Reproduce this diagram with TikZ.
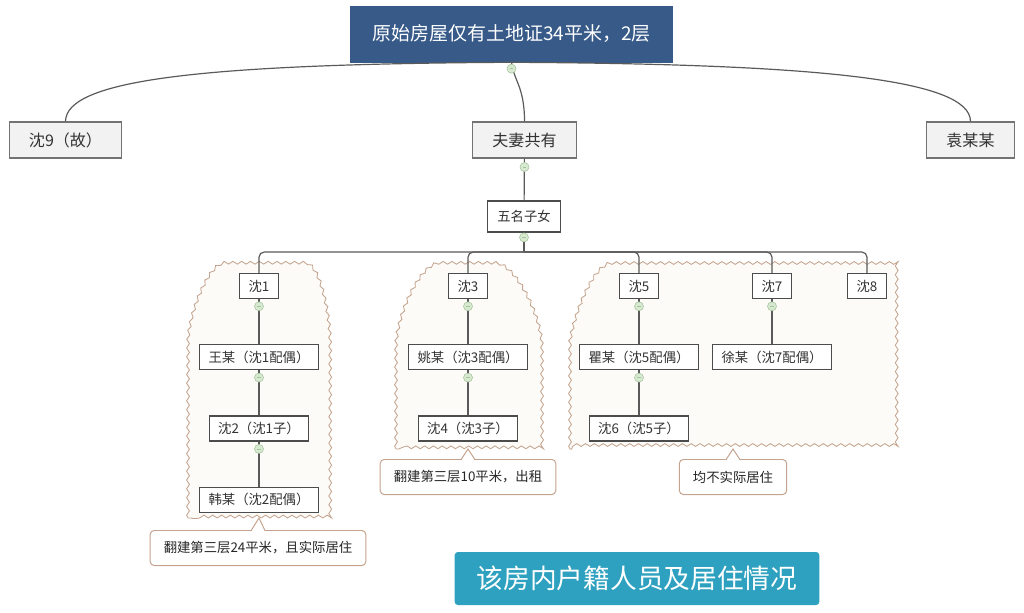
\documentclass[tikz,border=0pt]{standalone}
\usepackage{fontspec}
\setmainfont{Noto Sans CJK SC}
\usetikzlibrary{positioning,calc,backgrounds,decorations.pathmorphing}

\definecolor{rootblue}{RGB}{55,90,137}
\definecolor{titleblue}{RGB}{45,161,191}
\definecolor{linegray}{RGB}{90,90,90}
\definecolor{boxgray}{RGB}{242,242,242}
\definecolor{cloudline}{RGB}{196,164,142}
\definecolor{cloudfill}{RGB}{253,251,248}
\definecolor{foldfill}{RGB}{216,233,210}
\definecolor{foldline}{RGB}{165,196,155}

\tikzset{
  rootbox/.style={draw=rootblue, fill=rootblue, text=white, minimum height=1.4cm,
    inner xsep=0.55cm, font=\fontsize{13.5}{16}\selectfont},
  mainbox/.style={draw=black!55, fill=boxgray, minimum height=0.9cm, inner xsep=0.49cm,
    line width=0.9pt, text=black!80, font=\fontsize{11.4}{13}\selectfont},
  subbox/.style={draw=black!70, fill=white, minimum height=0.625cm, inner xsep=0.22cm,
    line width=0.9pt, text=black!80, font=\fontsize{9.5}{11}\selectfont},
  notebox/.style={draw=cloudline, fill=white, rounded corners=0.1cm, minimum height=0.875cm,
    inner xsep=0.34cm, line width=0.7pt, text=black!85, font=\fontsize{9.5}{11}\selectfont},
  titlebox/.style={fill=titleblue, text=white, rounded corners=0.08cm, minimum height=1.325cm,
    inner xsep=0.55cm, font=\fontsize{19}{22}\selectfont},
  link/.style={draw=linegray, line width=0.85pt},
  noteline/.style={draw=cloudline, line width=0.7pt},
  fold/.style={circle, draw=foldline, fill=foldfill, minimum size=0.225cm, inner sep=0pt,
    path picture={\draw[foldline, line width=0.4pt]
      ([xshift=-1.3pt]path picture bounding box.center) --
      ([xshift=1.3pt]path picture bounding box.center);}},
  cloudwrap/.style={draw=cloudline, fill=cloudfill, line width=0.6pt, decorate,
    decoration={snake, amplitude=0.035cm, segment length=0.22cm}},
}

% pointer of a note box, #1 note node, #2 tip coordinate
\newcommand{\notetip}[2]{%
  \fill[white] ($(#1.north)+(-0.18cm,-0.04cm)$) -- (#2) -- ($(#1.north)+(0.18cm,-0.04cm)$) -- cycle;
  \draw[noteline] ($(#1.north)+(-0.18cm,-0.025cm)$) -- (#2) -- ($(#1.north)+(0.18cm,-0.025cm)$);
}

\begin{document}
\begin{tikzpicture}[x=0.025cm, y=-0.025cm]
  \useasboundingbox (0,0) rectangle (1024,612);

  % top level
  \node[rootbox] (r)  at (511.5,34) {原始房屋仅有土地证34平米，2层};
  \node[mainbox] (s9) at (65.5,140) {沈9（故）};
  \node[mainbox] (fq) at (524.5,140) {夫妻共有};
  \node[mainbox] (ym) at (970.5,140) {袁某某};
  \node[subbox, minimum height=0.775cm, inner xsep=0.25cm] (wm) at (524,216.5) {五名子女};

  % five children and their families
  \node[subbox] (s1) at (259,286) {沈1};
  \node[subbox, below=1.125cm of s1] (w1) {王某（沈1配偶）};
  \node[subbox, below=1.125cm of w1] (s2) {沈2（沈1子）};
  \node[subbox, below=1.125cm of s2] (h2) {韩某（沈2配偶）};
  \node[subbox] (s3) at (468,286) {沈3};
  \node[subbox, below=1.125cm of s3] (y3) {姚某（沈3配偶）};
  \node[subbox, below=1.125cm of y3] (s4) {沈4（沈3子）};
  \node[subbox] (s5) at (639,286) {沈5};
  \node[subbox, below=1.125cm of s5] (q5) {瞿某（沈5配偶）};
  \node[subbox, below=1.125cm of q5] (s6) {沈6（沈5子）};
  \node[subbox] (s7) at (772,286) {沈7};
  \node[subbox, below=1.125cm of s7] (x7) {徐某（沈7配偶）};
  \node[subbox] (s8) at (867,286) {沈8};

  % notes and title
  \node[notebox] (n1) at (258,548) {翻建第三层24平米，且实际居住};
  \node[notebox] (n2) at (468,477) {翻建第三层10平米，出租};
  \node[notebox] (n3) at (733,477) {均不实际居住};
  \node[titlebox] (tt) at (637,578.5) {该房内户籍人员及居住情况};

  % wavy group outlines
  \begin{scope}[on background layer]
    \path[cloudwrap] (188,518) -- (188,345) .. controls (188,318) and (208,265) .. (225,265)
      -- (305,265) .. controls (320,265) and (330,318) .. (330,345) -- (330,518) -- cycle;
    \path[cloudwrap] (396,449) -- (396,350) .. controls (396,318) and (420,265) .. (440,265)
      -- (495,265) .. controls (515,265) and (542,318) .. (542,350) -- (542,449) -- cycle;
    \path[cloudwrap] (570,449) -- (570,345) .. controls (575,312) and (595,265) .. (612,265)
      -- (900,265) -- (900,449) -- cycle;
  \end{scope}

  % connectors
  \draw[link] (r.south) .. controls (200,64) and (66,80) .. (s9.north);
  \draw[link] (r.south) .. controls (824,64) and (970,80) .. (ym.north);
  \draw[link] (r.south) .. controls +(2,18) and +(0,-35) .. (fq.north);
  \draw[link] (fq) -- (wm);
  \coordinate (bus) at (524,252);
  \draw[link] (wm) -- (bus);
  \foreach \k in {s1,s3,s5,s7,s8}
    \draw[link, rounded corners=0.13cm] (bus) -| (\k.north);
  \draw[link] (s1) -- (w1) -- (s2) -- (h2);
  \draw[link] (s3) -- (y3) -- (s4);
  \draw[link] (s5) -- (q5) -- (s6);
  \draw[link] (s7) -- (x7);

  % fold markers
  \node[fold, below=0.04cm of r] (f-r) {};
  \node[fold, below=0.09cm of fq] (f-fq) {};
  \node[fold, below=0cm of wm] (f-wm) {};
  \foreach \k in {s1,w1,s2,s3,y3,s5,q5,s7}
    \node[fold, below=0.06cm of \k] (f-\k) {};

  % note pointers
  \coordinate (t1) at (259,518);
  \coordinate (t2) at (468,449);
  \coordinate (t3) at (733,449);
  \notetip{n1}{t1}
  \notetip{n2}{t2}
  \notetip{n3}{t3}
\end{tikzpicture}
\end{document}
